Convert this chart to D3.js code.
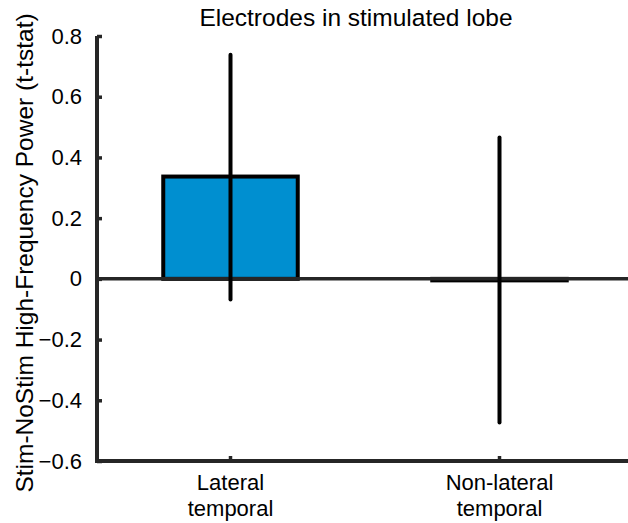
<!DOCTYPE html>
<html lang="en">
<head>
	<meta charset="utf-8">
	<title>Electrodes in stimulated lobe</title>
	<style type="text/css">
		body {
			margin: 0;
			background: #fff;
		}
		text {
			font-family: "Liberation Sans", Arial, Helvetica, sans-serif;
		}
	</style>
</head>
<body>
	<div id="vis"></div>
	<script src="https://cdn.jsdelivr.net/npm/d3@7"></script>
	<script type="text/javascript">

		var w = 628;
		var h = 523;

		var categories = [ ["Lateral", "temporal"], ["Non-lateral", "temporal"] ];
		var values = [ 0.337, -0.005 ];
		var errLow = [ -0.068, -0.473 ];
		var errHigh = [ 0.738, 0.466 ];
		var yTicks = [ -0.6, -0.4, -0.2, 0, 0.2, 0.4, 0.6, 0.8 ];

		var axisColor = "#262626";

		var xScale = d3.scaleBand()
						.domain(d3.range(categories.length))
						.range([96, 634])
						.paddingInner(0.5)
						.paddingOuter(0.25);

		var yScale = d3.scaleLinear()
						.domain([-0.6, 0.8])
						.range([461, 36]);

		//Create SVG element
		var svg = d3.select("#vis")
					.append("svg")
					.attr("width", w)
					.attr("height", h);

		//Title
		svg.append("text")
			.attr("x", 356)
			.attr("y", 26)
			.attr("text-anchor", "middle")
			.attr("font-size", "24.5px")
			.attr("fill", "#000")
			.text("Electrodes in stimulated lobe");

		//Y label
		svg.append("text")
			.attr("transform", "translate(33," + 253 + ") rotate(-90)")
			.attr("text-anchor", "middle")
			.attr("font-size", "24.5px")
			.attr("fill", "#000")
			.text("Stim-NoStim High-Frequency Power (t-tstat)");

		//Bars
		svg.selectAll("rect.bar")
			.data(values)
			.enter()
			.append("rect")
			.attr("class", "bar")
			.attr("x", function(d, i) { return xScale(i); })
			.attr("y", function(d) { return yScale(Math.max(0, d)); })
			.attr("width", xScale.bandwidth())
			.attr("height", function(d) { return Math.abs(yScale(d) - yScale(0)); })
			.attr("fill", "#008fd0")
			.attr("stroke", "#000")
			.attr("stroke-width", 4);

		//Zero line
		svg.append("line")
			.attr("x1", 97)
			.attr("x2", w)
			.attr("y1", yScale(0))
			.attr("y2", yScale(0))
			.attr("stroke", axisColor)
			.attr("stroke-width", 3.5);

		//Error bars
		svg.selectAll("line.err")
			.data(values)
			.enter()
			.append("line")
			.attr("class", "err")
			.attr("x1", function(d, i) { return xScale(i) + xScale.bandwidth() / 2; })
			.attr("x2", function(d, i) { return xScale(i) + xScale.bandwidth() / 2; })
			.attr("y1", function(d, i) { return yScale(errLow[i]); })
			.attr("y2", function(d, i) { return yScale(errHigh[i]); })
			.attr("stroke", "#000")
			.attr("stroke-width", 4)
			.attr("stroke-linecap", "round");

		//Y axis
		var yAxis = d3.axisRight(yScale)
						.tickValues(yTicks)
						.tickSize(5)
						.tickFormat(function(d) { return d === 0 ? "0" : d3.format(".1f")(d); });

		var gy = svg.append("g")
			.attr("transform", "translate(97,0)")
			.call(yAxis);
		gy.select(".domain").remove();
		gy.selectAll(".tick line").attr("stroke", axisColor).attr("stroke-width", 3.5);
		gy.selectAll(".tick text")
			.attr("x", -15)
			.attr("text-anchor", "end")
			.attr("font-size", "22px")
			.attr("font-family", "Liberation Sans, Arial, sans-serif")
			.attr("fill", "#000");

		//X axis
		var xAxis = d3.axisTop(xScale)
						.tickSize(5)
						.tickFormat("");

		var gx = svg.append("g")
			.attr("transform", "translate(0,461)")
			.call(xAxis);
		gx.select(".domain").remove();
		gx.selectAll(".tick line").attr("stroke", axisColor).attr("stroke-width", 3.5);

		//Spines
		svg.append("path")
			.attr("d", "M97," + yScale(0.8) + "V461H" + w)
			.attr("fill", "none")
			.attr("stroke", axisColor)
			.attr("stroke-width", 4);

		//X tick labels
		svg.selectAll("text.xlab")
			.data(categories)
			.enter()
			.append("text")
			.attr("class", "xlab")
			.attr("x", function(d, i) { return xScale(i) + xScale.bandwidth() / 2; })
			.attr("y", 490)
			.attr("text-anchor", "middle")
			.attr("font-size", "22px")
			.attr("fill", "#000")
			.each(function(d) {
				var t = d3.select(this);
				d.forEach(function(line, j) {
					t.append("tspan")
						.attr("x", t.attr("x"))
						.attr("dy", j === 0 ? 0 : 26)
						.text(line);
				});
			});

	</script>
</body>
</html>
